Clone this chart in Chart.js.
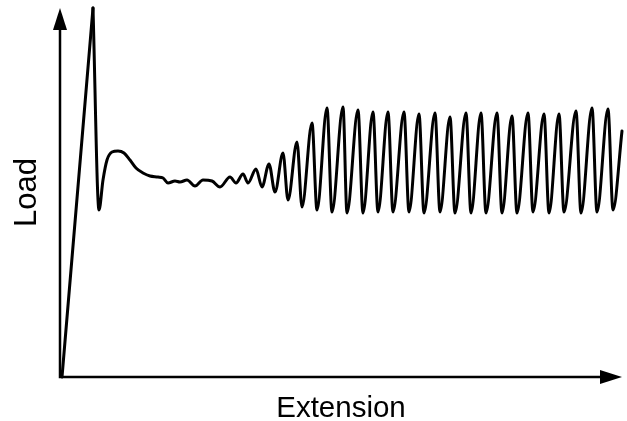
<!DOCTYPE html>
<html>
<head>
<meta charset="utf-8">
<script src="https://cdn.jsdelivr.net/npm/chart.js@4"></script>
<style>
html,body{margin:0;padding:0;background:#fff;}
canvas{display:block;}
</style>
</head>
<body>
<canvas id="c" width="627" height="421"></canvas>
<script>
// Extension (arbitrary units, measured from origin)
const extension = [2, 33, 39, 43, 47, 52, 58, 64, 70, 76, 83, 90, 98, 103, 108, 115, 120, 127, 135, 143, 152, 160, 170, 176, 183, 188, 196, 202, 209, 215, 223, 228, 237, 242, 252, 257, 267, 272, 283, 287, 298, 303, 313, 318, 328, 333, 344, 349, 359, 364, 375, 380, 390, 395, 406, 411, 421, 426, 437, 442, 452, 457, 468, 473, 484, 489, 499, 504, 516, 521, 532, 537, 548, 553, 562];
// Load (arbitrary units)
const load = [0, 369, 167, 197, 217, 225, 226, 224, 217, 209, 204, 201, 200, 199, 194, 196, 195, 197, 191, 197, 196, 190, 200, 194, 203, 194, 208, 190, 213, 185, 224, 177, 235, 170, 254, 167, 269, 165, 270, 164, 267, 164, 265, 165, 265, 165, 265, 165, 263, 164, 264, 165, 260, 164, 264, 164, 264, 164, 264, 164, 261, 164, 264, 165, 263, 164, 263, 165, 266, 164, 269, 165, 268, 167, 246];
// index of the first (elastic) peak: the rise up to it is straight
const peakIndex = 1;
const xRange = [0, 562];
const yRange = [0, 369];
const xTitle = 'Extension';
const yTitle = 'Load';

const points = extension.map((x, i) => ({x: x, y: load[i]}));
const risePoints = points.slice(0, peakIndex + 1);
const restPoints = points.slice(peakIndex);

const arrowAxes = {
  id: 'arrowAxes',
  beforeDatasetsDraw(chart) {
    const ctx = chart.ctx;
    const xs = chart.scales.x, ys = chart.scales.y;
    const ox = xs.getPixelForValue(xRange[0]);
    const oy = ys.getPixelForValue(yRange[0]);
    const tx = xs.getPixelForValue(xRange[1]);
    const ty = ys.getPixelForValue(yRange[1]);
    const L = 22, W = 7;
    ctx.save();
    ctx.strokeStyle = '#000';
    ctx.fillStyle = '#000';
    ctx.lineWidth = 2.5;
    ctx.lineCap = 'butt';
    ctx.beginPath();
    ctx.moveTo(ox, oy + 1.25);
    ctx.lineTo(ox, ty + L - 2);
    ctx.moveTo(ox - 1.25, oy);
    ctx.lineTo(tx - L + 2, oy);
    ctx.stroke();
    ctx.beginPath();
    ctx.moveTo(ox, ty);
    ctx.lineTo(ox - W, ty + L);
    ctx.lineTo(ox + W, ty + L);
    ctx.closePath();
    ctx.fill();
    ctx.beginPath();
    ctx.moveTo(tx, oy);
    ctx.lineTo(tx - L, oy - W);
    ctx.lineTo(tx - L, oy + W);
    ctx.closePath();
    ctx.fill();
    ctx.restore();
  }
};

const lineStyle = {
  borderColor: '#000',
  borderWidth: 3,
  pointRadius: 0,
  fill: false,
  borderJoinStyle: 'round',
  borderCapStyle: 'round',
  clip: false
};

new Chart(document.getElementById('c'), {
  type: 'line',
  data: {
    datasets: [
      Object.assign({data: risePoints, tension: 0}, lineStyle),
      Object.assign({data: restPoints, cubicInterpolationMode: 'monotone'}, lineStyle)
    ]
  },
  options: {
    responsive: false,
    animation: false,
    devicePixelRatio: 1,
    layout: {padding: {left: 0, top: 8, right: 5, bottom: 0}},
    plugins: {legend: {display: false}, tooltip: {enabled: false}},
    scales: {
      x: {
        type: 'linear',
        min: xRange[0], max: xRange[1],
        grid: {display: false, drawTicks: false},
        border: {display: false},
        ticks: {display: false},
        title: {
          display: true, text: xTitle, color: '#000',
          font: {family: '"Liberation Sans", Arial, sans-serif', size: 29.5, lineHeight: 0.8},
          padding: {top: 20.2, bottom: 0.2}
        }
      },
      y: {
        type: 'linear',
        min: yRange[0], max: yRange[1],
        grid: {display: false, drawTicks: false},
        border: {display: false},
        ticks: {display: false},
        title: {
          display: true, text: yTitle, color: '#000',
          font: {family: '"Liberation Sans", Arial, sans-serif', size: 31, lineHeight: 1.2},
          padding: {top: 8.4, bottom: 14.4}
        }
      }
    }
  },
  plugins: [arrowAxes]
});
</script>
</body>
</html>
